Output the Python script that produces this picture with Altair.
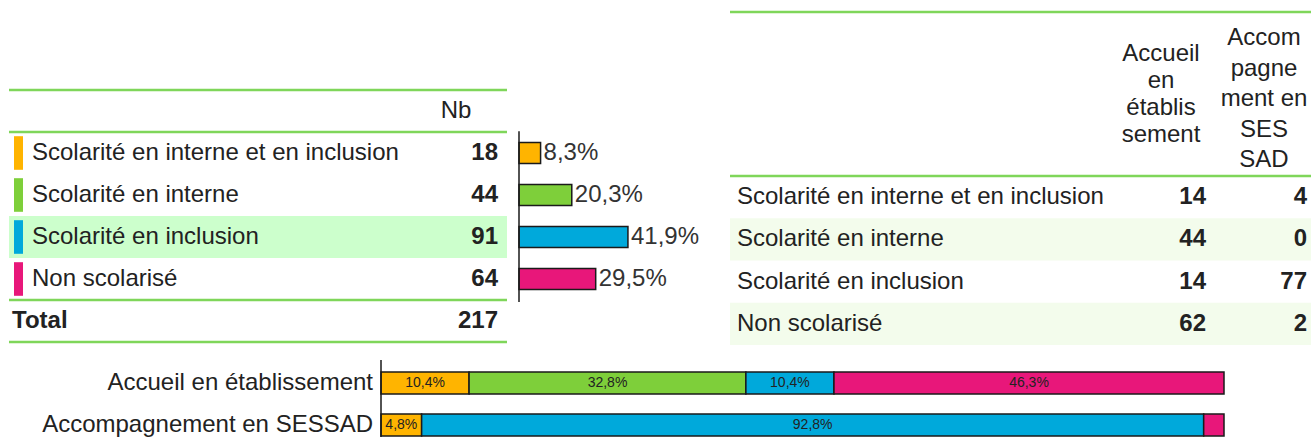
import altair as alt
import pandas as pd

# ---------------- data ----------------
categories = ["Scolarité en interne et en inclusion", "Scolarité en interne",
              "Scolarité en inclusion", "Non scolarisé"]
nb = [18, 44, 91, 64]
nb_total = 217
pct = [8.3, 20.3, 41.9, 29.5]
pct_labels = ["8,3%", "20,3%", "41,9%", "29,5%"]
accueil = [14, 44, 14, 62]
sessad = [4, 0, 77, 2]
groups = ["Accueil en établissement", "Accompagnement en SESSAD"]
accueil_labels = ["10,4%", "32,8%", "10,4%", "46,3%"]
sessad_labels = ["4,8%", "", "92,8%", ""]
header_nb = "Nb"
header_total = "Total"
header_accueil = "Accueil\nen\nétablis\nsement"
header_sessad = "Accom\npagne\nment en\nSES\nSAD"

# ---------------- style ----------------
palette = ["#FFB400", "#7ECF3A", "#00A9DB", "#E8177A"]
LINE = "#7FD65A"
FONT = "Liberation Sans"
TXT = "#222222"
STROKE = "#1a1a1a"

color = alt.Color("cat:N", scale=alt.Scale(domain=categories, range=palette), legend=None)


def sc(domain, rng):
    return alt.Scale(domain=domain, range=rng, zero=False, nice=False)


yL = sc([-0.5, 3.5], [132, 300])      # left table rows
xB = sc([0, 100], [519, 779])         # small percentage bars
yR = sc([-0.5, 3.5], [176, 345])      # right table rows
yD = sc([-0.5, 1.5], [362, 446])      # bottom stacked bars
xD = sc([0, 1], [381, 1224])

dfL = pd.DataFrame({"cat": categories, "nb": nb, "i": list(range(4)),
                    "pct": pct, "pct_label": pct_labels,
                    "acc": accueil, "ses": sessad})

layers = []

# ---- left table ----
layers.append(
    alt.Chart(dfL).transform_filter("datum.i == 2")
    .transform_calculate(y0="datum.i - 0.5", y1="datum.i + 0.5")
    .mark_rect(color="#CCFFCC")
    .encode(x=alt.value(9), x2=alt.value(507),
            y=alt.Y("y0:Q", scale=yL, axis=None), y2="y1:Q")
)
layers.append(
    alt.Chart(dfL).transform_calculate(y0="datum.i - 0.4", y1="datum.i + 0.4")
    .mark_rect()
    .encode(x=alt.value(14), x2=alt.value(23),
            y=alt.Y("y0:Q", scale=yL, axis=None), y2="y1:Q", color=color)
)
layers.append(
    alt.Chart(dfL).mark_text(align="left", baseline="middle", font=FONT, fontSize=24, color=TXT)
    .encode(x=alt.value(32), y=alt.Y("i:Q", scale=yL, axis=None), text="cat:N")
)
layers.append(
    alt.Chart(dfL).mark_text(align="right", baseline="middle", font=FONT, fontSize=24,
                             fontWeight="bold", color=TXT)
    .encode(x=alt.value(498), y=alt.Y("i:Q", scale=yL, axis=None),
            text=alt.Text("nb:Q", format="d"))
)
layers.append(
    alt.Chart(pd.DataFrame({"t": [header_nb], "i": [-1]}))
    .mark_text(align="center", baseline="middle", font=FONT, fontSize=24, color=TXT)
    .encode(x=alt.value(456), y=alt.Y("i:Q", scale=yL, axis=None), text="t:N")
)
layers.append(
    alt.Chart(pd.DataFrame({"t": [header_total], "i": [4]}))
    .mark_text(align="left", baseline="middle", font=FONT, fontSize=24, fontWeight="bold", color=TXT)
    .encode(x=alt.value(12), y=alt.Y("i:Q", scale=yL, axis=None), text="t:N")
)
layers.append(
    alt.Chart(pd.DataFrame({"v": [nb_total], "i": [4]}))
    .mark_text(align="right", baseline="middle", font=FONT, fontSize=24, fontWeight="bold", color=TXT)
    .encode(x=alt.value(498), y=alt.Y("i:Q", scale=yL, axis=None), text=alt.Text("v:Q", format="d"))
)
layers.append(
    alt.Chart(pd.DataFrame({"yl": [-1.5, -0.5, 3.5, 4.5]}))
    .mark_rule(color=LINE, strokeWidth=2.5)
    .encode(x=alt.value(9), x2=alt.value(507), y=alt.Y("yl:Q", scale=yL, axis=None))
)

# ---- small percentage bars ----
layers.append(
    alt.Chart(dfL).transform_calculate(z="0", y0="datum.i - 0.25", y1="datum.i + 0.25")
    .mark_rect(stroke=STROKE, strokeWidth=1.5)
    .encode(x=alt.X("z:Q", scale=xB, axis=None), x2="pct:Q",
            y=alt.Y("y0:Q", scale=yL, axis=None), y2="y1:Q", color=color)
)
layers.append(
    alt.Chart(dfL).mark_text(align="left", baseline="middle", dx=3, font=FONT, fontSize=24, color="#333333")
    .encode(x=alt.X("pct:Q", scale=xB, axis=None), y=alt.Y("i:Q", scale=yL, axis=None),
            text="pct_label:N")
)
layers.append(
    alt.Chart(pd.DataFrame({"z": [0], "a": [-0.52], "b": [3.55]}))
    .mark_rule(color=STROKE, strokeWidth=1.5)
    .encode(x=alt.X("z:Q", scale=xB, axis=None),
            y=alt.Y("a:Q", scale=yL, axis=None), y2="b:Q")
)

# ---- right table ----
layers.append(
    alt.Chart(dfL).transform_filter("datum.i % 2 == 1")
    .transform_calculate(y0="datum.i - 0.5", y1="datum.i + 0.5")
    .mark_rect(color="#F3FCEC")
    .encode(x=alt.value(730), x2=alt.value(1311),
            y=alt.Y("y0:Q", scale=yR, axis=None), y2="y1:Q")
)
layers.append(
    alt.Chart(pd.DataFrame({"yl": [-0.5]}))
    .mark_rule(color=LINE, strokeWidth=2.5)
    .encode(x=alt.value(730), x2=alt.value(1311), y=alt.Y("yl:Q", scale=yR, axis=None))
)
layers.append(
    alt.Chart(pd.DataFrame({"k": [0]}))
    .mark_rule(color=LINE, strokeWidth=2.5)
    .encode(x=alt.value(730), x2=alt.value(1311), y=alt.value(12))
)
layers.append(
    alt.Chart(dfL).mark_text(align="left", baseline="middle", font=FONT, fontSize=24, color=TXT)
    .encode(x=alt.value(737), y=alt.Y("i:Q", scale=yR, axis=None), text="cat:N")
)
layers.append(
    alt.Chart(dfL).mark_text(align="right", baseline="middle", font=FONT, fontSize=24,
                             fontWeight="bold", color=TXT)
    .encode(x=alt.value(1206), y=alt.Y("i:Q", scale=yR, axis=None), text=alt.Text("acc:Q", format="d"))
)
layers.append(
    alt.Chart(dfL).mark_text(align="right", baseline="middle", font=FONT, fontSize=24,
                             fontWeight="bold", color=TXT)
    .encode(x=alt.value(1307), y=alt.Y("i:Q", scale=yR, axis=None), text=alt.Text("ses:Q", format="d"))
)
layers.append(
    alt.Chart(pd.DataFrame({"t": [header_accueil]}))
    .mark_text(align="center", baseline="middle", font=FONT, fontSize=24, color=TXT,
               lineBreak="\n", lineHeight=27)
    .encode(x=alt.value(1161), y=alt.value(54), text="t:N")
)
layers.append(
    alt.Chart(pd.DataFrame({"t": [header_sessad]}))
    .mark_text(align="center", baseline="middle", font=FONT, fontSize=24, color=TXT,
               lineBreak="\n", lineHeight=30.5)
    .encode(x=alt.value(1264), y=alt.value(38), text="t:N")
)

# ---- bottom stacked bars ----
rows = []
for gi, (g, vals, labs) in enumerate([(groups[0], accueil, accueil_labels),
                                       (groups[1], sessad, sessad_labels)]):
    for k, (c, v, l) in enumerate(zip(categories, vals, labs)):
        rows.append({"group": g, "gi": gi, "cat": c, "order": k, "count": v, "label": l})
dfD = pd.DataFrame(rows)

stacked = (
    alt.Chart(dfD)
    .transform_stack(stack="count", groupby=["group"], as_=["x0", "x1"], offset="normalize",
                     sort=[alt.SortField("order", order="ascending")])
    .transform_calculate(y0="datum.gi - 0.26", y1="datum.gi + 0.26", xm="(datum.x0 + datum.x1) / 2")
)
layers.append(
    stacked.transform_filter("datum.count > 0")
    .mark_rect(stroke=STROKE, strokeWidth=1.5)
    .encode(x=alt.X("x0:Q", scale=xD, axis=None), x2="x1:Q",
            y=alt.Y("y0:Q", scale=yD, axis=None), y2="y1:Q", color=color)
)
layers.append(
    stacked.mark_text(align="center", baseline="middle", font=FONT, fontSize=14, color=TXT)
    .encode(x=alt.X("xm:Q", scale=xD, axis=None), y=alt.Y("gi:Q", scale=yD, axis=None), text="label:N")
)
layers.append(
    alt.Chart(pd.DataFrame({"group": groups, "gi": [0, 1]}))
    .mark_text(align="right", baseline="middle", font=FONT, fontSize=24, color=TXT)
    .encode(x=alt.value(373), y=alt.Y("gi:Q", scale=yD, axis=None), text="group:N")
)
layers.append(
    alt.Chart(pd.DataFrame({"z": [0], "a": [-0.55], "b": [1.6]}))
    .mark_rule(color=STROKE, strokeWidth=1.5)
    .encode(x=alt.X("z:Q", scale=xD, axis=None),
            y=alt.Y("a:Q", scale=yD, axis=None), y2="b:Q")
)

chart = (
    alt.layer(*layers)
    .resolve_scale(x="independent", y="independent")
    .properties(width=1311, height=437, padding=0, autosize=alt.AutoSizeParams(type="none"),
                background="white")
    .configure_view(stroke=None)
)

chart.save("out.html", embed_options={"renderer": "svg", "actions": False})
